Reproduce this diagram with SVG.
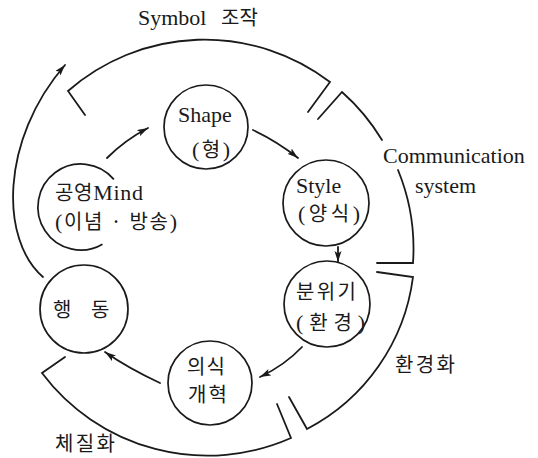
<svg xmlns="http://www.w3.org/2000/svg" width="538" height="458" viewBox="0 0 538 458">
<defs>
<style>
.ln{fill:none;stroke:#1a1a1a;stroke-width:1.8;stroke-linecap:round;stroke-linejoin:miter}
.nd{fill:none;stroke:#1a1a1a;stroke-width:1.7}
.t{fill:#1a1a1a;font-family:"Liberation Serif","Noto Serif CJK KR","Noto Sans CJK KR",serif;font-size:22px}
.k{fill:#1a1a1a;font-family:"Noto Sans CJK KR","Noto Sans",sans-serif;font-size:20px}
</style>
<marker id="ah" markerUnits="userSpaceOnUse" markerWidth="12" markerHeight="8" refX="11" refY="3.5" orient="auto">
<path d="M0,0 L11,3.5 L0,7 L2.5,3.5 z" fill="#1a1a1a"/>
</marker>
</defs>
<rect width="538" height="458" fill="#ffffff"/>

<g id="ring">
<path class="ln" d="M85,115 L68,91 A207,207 0 0 1 330,82 L308,112"/>
<path class="ln" d="M318,119 L342,92 A207,207 0 0 1 382,140"/>
<path class="ln" d="M398,170 A207,207 0 0 1 413,263 L377,263"/>
<path class="ln" d="M377,272 L413,277 A200,200 0 0 1 307,429 L289,397"/>
<path class="ln" d="M277,404 L291,438 A207,207 0 0 1 42,373 L65,357"/>
</g>

<g id="connectors">
<path class="ln" d="M107,158 Q125,140 148,128" marker-end="url(#ah)"/>
<path class="ln" d="M253,130 Q278,142 298,158" marker-end="url(#ah)"/>
<path class="ln" d="M338,247 L338,262" marker-end="url(#ah)"/>
<path class="ln" d="M302,347 Q285,365 260,377" marker-end="url(#ah)"/>
<path class="ln" d="M160,383 Q128,368 105,352" marker-end="url(#ah)"/>
<path class="ln" d="M43,277 C0,240 0,140 65,65" marker-end="url(#ah)"/>
</g>

<g id="node-shape">
<circle class="nd" cx="206" cy="127" r="42"/>
<text class="t" x="178" y="122">Shape</text>
<text class="k" x="192" y="157" textLength="38"><tspan class="t">(</tspan>형<tspan class="t">)</tspan></text>
</g>

<g id="node-mind">
<path class="nd" d="M102.5,244.2 A43,43 0 1 1 113.9,179.4"/>
<text class="k" x="55" y="200" textLength="88">공영<tspan class="t">Mind</tspan></text>
<text class="k" x="55" y="229" textLength="122"><tspan class="t">(</tspan>이념 · 방송<tspan class="t">)</tspan></text>
</g>

<g id="node-style">
<circle class="nd" cx="326" cy="203" r="43"/>
<text class="t" x="296" y="193">Style</text>
<text class="k" x="298" y="221" textLength="62"><tspan class="t">(</tspan>양식<tspan class="t">)</tspan></text>
</g>

<g id="node-mood">
<circle class="nd" cx="327" cy="304" r="43"/>
<text class="k" x="296" y="299" textLength="60">분위기</text>
<text class="k" x="296" y="330" textLength="69"><tspan class="t">(</tspan>환경<tspan class="t">)</tspan></text>
</g>

<g id="node-reform">
<circle class="nd" cx="210" cy="383" r="42"/>
<text class="k" x="187" y="374" font-size="19" textLength="38">의식</text>
<text class="k" x="188" y="402" font-size="19" textLength="39">개혁</text>
</g>

<g id="node-action">
<circle class="nd" cx="84" cy="309" r="44"/>
<text class="k" x="53" y="317">행</text>
<text class="k" x="91" y="317">동</text>
</g>

<g id="labels">
<text class="t" x="138" y="25">Symbol<tspan class="k" x="221">조작</tspan></text>
<text class="t" x="383" y="163">Communication</text>
<text class="t" x="415" y="193">system</text>
<text class="k" x="395" y="372" textLength="60">환경화</text>
<text class="k" x="55" y="451" textLength="60">체질화</text>
</g>
</svg>
